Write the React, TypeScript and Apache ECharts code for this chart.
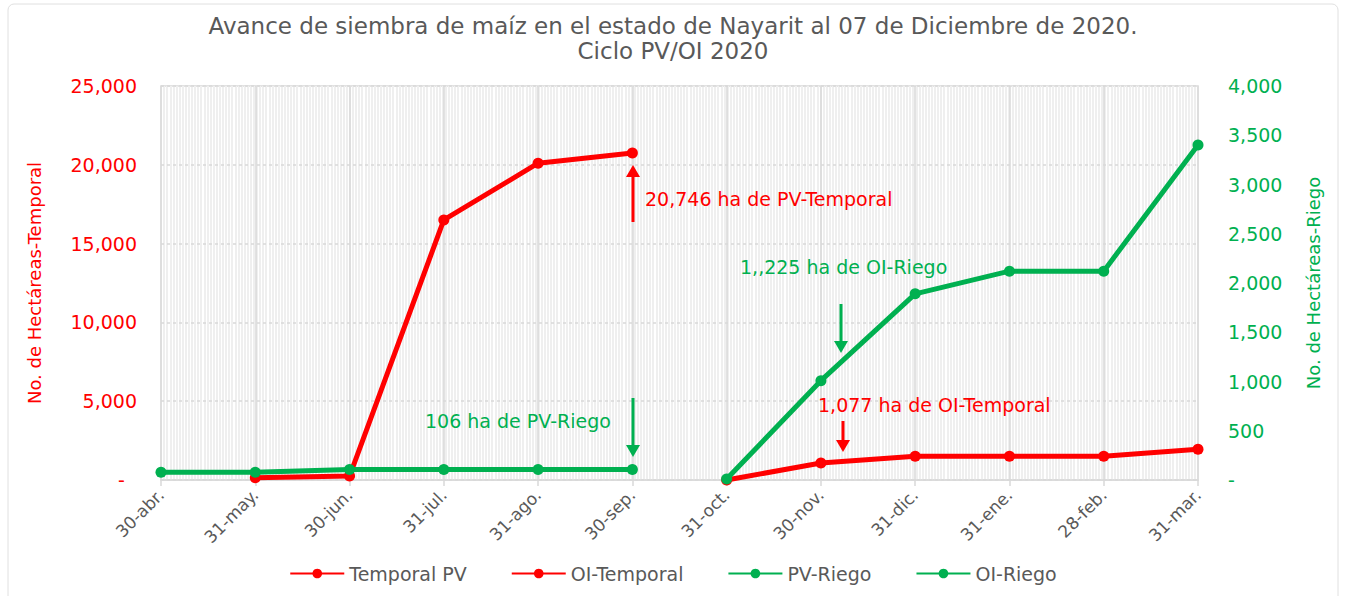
import React, { useEffect, useRef } from "react";
import * as echarts from "echarts";

const categories = ["30-abr.", "31-may.", "30-jun.", "31-jul.", "31-ago.", "30-sep.", "31-oct.", "30-nov.", "31-dic.", "31-ene.", "28-feb.", "31-mar."];
const temporalPV = [null, 150, 250, 16500, 20100, 20746, null, null, null, null, null, null];
const oiTemporal = [null, null, null, null, null, null, 0, 1077, 1500, 1500, 1500, 1950];
const pvRiego = [78, 78, 106, 106, 106, 106, null, null, null, null, null, null];
const oiRiego = [null, null, null, null, null, null, 10, 1008, 1890, 2120, 2120, 3400];
const totalDays = 335;

const RED = "#ff0000";
const GREEN = "#00b050";
const GRAY = "#595959";
const FONT = "DejaVu Sans";

function fmt(v: number) {
  return v === 0 ? "-  " : v.toLocaleString("en-US");
}

function arrow(x: number, y1: number, y2: number, color: string) {
  const dir = y2 > y1 ? 1 : -1;
  const base = y2 - dir * 12;
  return [
    { type: "line", z: 100, shape: { x1: x, y1, x2: x, y2: base }, style: { stroke: color, lineWidth: 3 } },
    { type: "polygon", z: 100, shape: { points: [[x - 7, base], [x + 7, base], [x, y2]] }, style: { fill: color } },
  ];
}

function label(x: number, y: number, text: string, color: string) {
  return { type: "text", z: 100, x, y, style: { text, fill: color, fontSize: 19, fontFamily: FONT, verticalAlign: "middle" } };
}

export default function App() {
  const ref = useRef<HTMLDivElement>(null);
  useEffect(() => {
    if (!ref.current) return;
    const chart = echarts.init(ref.current, undefined, { renderer: "svg" });
    const lineSeries = (name: string, data: any[], color: string, yAxisIndex: number) => ({
      name,
      type: "line",
      data,
      xAxisIndex: 0,
      yAxisIndex,
      symbol: "circle",
      symbolSize: 11,
      connectNulls: false,
      lineStyle: { color, width: 5 },
      itemStyle: { color },
      z: 5,
    });
    chart.setOption({
      animation: false,
      backgroundColor: "#ffffff",
      textStyle: { fontFamily: FONT },
      title: {
        text: "Avance de siembra de maíz en el estado de Nayarit al 07 de Diciembre de 2020.\nCiclo PV/OI 2020",
        left: "center",
        top: 8,
        textStyle: { color: GRAY, fontSize: 23, fontWeight: "normal", fontFamily: FONT, lineHeight: 25 },
      },
      legend: {
        bottom: 8,
        left: "center",
        itemWidth: 54,
        itemHeight: 12,
        itemGap: 44,
        textStyle: { color: GRAY, fontSize: 19, fontFamily: FONT },
        data: ["Temporal PV", "OI-Temporal", "PV-Riego", "OI-Riego"],
      },
      grid: { left: 161, right: 148, top: 86, bottom: 116, show: true, borderColor: "#d9d9d9", borderWidth: 1.5, containLabel: false },
      xAxis: [
        {
          type: "category",
          data: categories,
          boundaryGap: false,
          z: 2,
          axisLine: { lineStyle: { color: "#d9d9d9", width: 1.5 } },
          axisTick: { show: true, length: 6, lineStyle: { color: "#d9d9d9", width: 1.5 } },
          splitLine: { show: true, lineStyle: { color: "#d9d9d9", width: 1.5 } },
          axisLabel: { rotate: 45, color: GRAY, fontSize: 17, fontFamily: FONT, margin: 12 },
        },
        {
          type: "value",
          min: 0,
          max: totalDays,
          interval: 1,
          position: "bottom",
          z: 0,
          axisLine: { show: false },
          axisTick: { show: false },
          axisLabel: { show: false },
          splitLine: { show: true, lineStyle: { color: "#efefef", width: 2 } },
        },
      ],
      yAxis: [
        {
          type: "value",
          min: 0,
          max: 25000,
          interval: 5000,
          position: "left",
          name: "No. de Hectáreas-Temporal",
          nameLocation: "middle",
          nameGap: 118,
          nameTextStyle: { color: RED, fontSize: 18, fontFamily: FONT },
          axisLine: { show: false },
          axisTick: { show: false },
          splitLine: { show: true, lineStyle: { color: "#d9d9d9", width: 1.5, type: [3, 3] } },
          axisLabel: { color: RED, fontSize: 19, fontFamily: FONT, margin: 24, formatter: fmt },
          z: 3,
        },
        {
          type: "value",
          min: 0,
          max: 4000,
          interval: 500,
          position: "right",
          name: "No. de Hectáreas-Riego",
          nameLocation: "middle",
          nameGap: 106,
          nameRotate: 90,
          nameTextStyle: { color: GREEN, fontSize: 18, fontFamily: FONT },
          axisLine: { show: false },
          axisTick: { show: false },
          splitLine: { show: false },
          axisLabel: { color: GREEN, fontSize: 19, fontFamily: FONT, margin: 30, formatter: (v: number) => (v === 0 ? "-" : v.toLocaleString("en-US")) },
        },
      ],
      graphic: [
        { type: "rect", z: 100, shape: { x: 8, y: 4, width: 1330, height: 620, r: 6 }, style: { fill: "none", stroke: "#e0e0e0", lineWidth: 1 }, silent: true },
        ...arrow(633, 222, 165, RED),
        label(645, 199, "20,746 ha de PV-Temporal", RED),
        ...arrow(633, 398, 457, GREEN),
        label(425, 421, "106 ha de PV-Riego", GREEN),
        ...arrow(841, 304, 353, GREEN),
        label(740, 267, "1,,225 ha de OI-Riego", GREEN),
        ...arrow(843, 421, 452, RED),
        label(818, 405, "1,077 ha de OI-Temporal", RED),
      ],
      series: [
        lineSeries("Temporal PV", temporalPV, RED, 0),
        lineSeries("OI-Temporal", oiTemporal, RED, 0),
        lineSeries("PV-Riego", pvRiego, GREEN, 1),
        lineSeries("OI-Riego", oiRiego, GREEN, 1),
      ],
    });
    return () => chart.dispose();
  }, []);
  return <div ref={ref} style={{ position: "fixed", left: 0, top: 0, width: 1346, height: 596 }} />;
}
